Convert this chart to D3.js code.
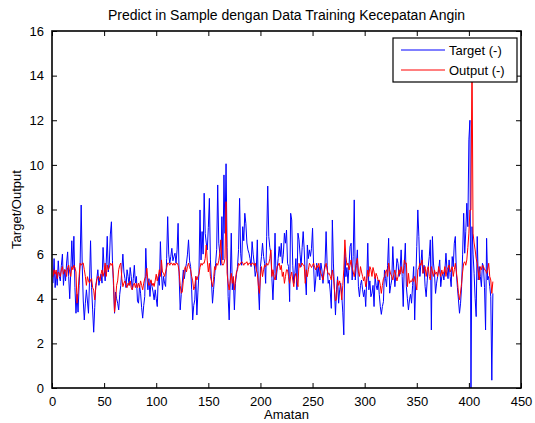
<!DOCTYPE html>
<html>
<head>
<meta charset="utf-8">
<title>Predict in Sample dengan Data Training Kecepatan Angin</title>
<script src="https://d3js.org/d3.v7.min.js"></script>
<style>
	body { margin: 0; background: #fff; }
	text { font-family: "Liberation Sans", Arial, Helvetica, sans-serif; fill: #000; }
</style>
</head>
<body>
<svg id="chart" width="535" height="423"></svg>

<script type="text/javascript">

/** DATA **/
var chartTitle = "Predict in Sample dengan Data Training Kecepatan Angin";
var xLabel = "Amatan";
var yLabel = "Target/Output";
var seriesNames = ["Target (-)", "Output (-)"];
var xTicks = [0, 50, 100, 150, 200, 250, 300, 350, 400, 450];
var yTicks = [0, 2, 4, 6, 8, 10, 12, 14, 16];

// target (blue), one value per amatan, starting at 1
var targetValues = [
	4.7, 5.8, 4.5, 5.2, 4.6, 5.7, 5.0, 4.8, 5.5, 6.0,
	4.6, 5.3, 4.8, 5.6, 6.1, 5.0, 4.0, 5.2, 6.6, 5.4,
	6.8, 4.5, 3.35, 4.2, 3.4, 4.6, 5.6, 8.2, 5.5, 3.9,
	3.05, 3.8, 4.4, 3.9, 3.35, 4.8, 6.6, 4.5, 3.5, 2.5,
	3.6, 4.6, 4.9, 5.3, 4.6, 4.9, 5.1, 4.7, 6.3, 5.4,
	4.8, 5.6, 6.8, 5.2, 5.6, 6.9, 7.45, 5.7, 4.6, 3.35,
	4.3, 4.0, 3.8, 3.5, 4.2, 4.6, 5.3, 6.0, 5.2, 4.9,
	4.5, 5.3, 5.0, 4.6, 5.4, 5.0, 4.4, 4.9, 5.5, 4.7,
	5.0, 3.9, 3.8, 4.6, 4.25, 3.6, 3.13, 3.7, 4.1, 6.26,
	5.0, 4.4, 4.9, 4.1, 4.8, 4.55, 4.3, 3.95, 4.4, 4.0,
	3.65, 5.0, 4.6, 6.56, 5.2, 4.4, 5.0, 4.7, 4.55, 5.8,
	7.68, 6.0, 5.59, 5.9, 6.26, 5.7, 5.89, 6.04, 5.6, 6.19,
	7.38, 5.0, 3.5, 4.2, 4.7, 5.29, 4.9, 5.3, 5.59, 6.0,
	6.64, 5.7, 5.44, 4.4, 3.05, 3.7, 3.95, 5.0, 3.27, 4.3,
	5.15, 7.98, 5.74, 7.01, 6.0, 8.73, 6.93, 6.5, 6.19, 7.2,
	8.5, 5.74, 4.8, 3.8, 4.4, 5.0, 5.59, 6.2, 9.1, 6.49,
	6.04, 5.5, 7.68, 5.74, 9.55, 6.93, 10.05, 6.3, 4.1, 3.05,
	4.8, 6.94, 4.4, 4.9, 3.5, 4.69, 5.1, 5.44, 6.2, 8.5,
	6.04, 5.5, 7.23, 6.6, 7.83, 7.38, 6.5, 6.19, 6.04, 5.8,
	5.44, 6.56, 6.0, 5.59, 5.0, 5.29, 6.64, 4.5, 3.5, 5.44,
	5.9, 6.49, 5.9, 5.59, 4.69, 6.8, 9.05, 6.79, 6.3, 6.04,
	4.9, 3.95, 5.14, 6.94, 4.84, 5.29, 5.8, 6.34, 5.89, 6.49,
	5.59, 6.0, 6.94, 6.49, 7.08, 5.59, 5.44, 3.87, 7.83, 7.53,
	5.5, 4.69, 5.14, 5.8, 4.4, 6.94, 6.64, 6.0, 5.44, 6.3,
	7.01, 6.19, 5.0, 4.17, 6.41, 5.8, 6.19, 5.9, 6.26, 7.16,
	5.5, 4.32, 4.84, 5.59, 5.0, 5.44, 4.84, 5.6, 5.29, 4.69,
	5.2, 5.59, 7.01, 5.5, 4.69, 4.84, 4.3, 3.57, 7.53, 5.6,
	4.4, 3.27, 4.4, 4.99, 3.8, 4.4, 4.69, 4.17, 3.4, 2.38,
	6.19, 4.99, 5.4, 4.69, 5.5, 6.34, 6.49, 4.84, 5.9, 8.43,
	4.84, 5.5, 6.19, 4.54, 4.09, 4.6, 4.84, 4.4, 4.09, 4.4,
	3.65, 4.9, 6.49, 4.4, 4.8, 4.09, 4.25, 4.6, 3.65, 4.99,
	4.6, 4.4, 4.84, 4.2, 3.65, 3.3, 3.65, 3.87, 5.29, 4.9,
	4.54, 5.5, 6.71, 4.25, 4.6, 4.84, 6.34, 5.2, 4.54, 5.14,
	5.8, 5.59, 5.0, 5.29, 6.19, 5.0, 3.65, 5.5, 6.49, 4.54,
	4.0, 3.5, 3.95, 4.2, 3.8, 4.6, 5.44, 3.05, 4.8, 6.34,
	7.98, 6.79, 5.0, 5.6, 6.19, 5.14, 5.5, 4.54, 4.09, 4.8,
	5.44, 5.9, 6.64, 2.6, 6.79, 5.6, 5.14, 4.24, 4.7, 5.0,
	5.3, 5.74, 4.54, 5.0, 5.14, 4.84, 5.3, 6.04, 5.29, 4.9,
	5.74, 5.0, 4.54, 5.89, 5.44, 6.49, 6.79, 5.14, 4.5, 3.95,
	3.35, 3.8, 4.54, 6.0, 7.83, 6.04, 7.0, 8.28, 7.23, 11.12,
	12.0, 0, 7.23, 6.0, 5.14, 4.0, 3.2, 6.79, 4.84, 5.44,
	5.0, 4.54, 5.59, 5.44, 4.5, 2.6, 6.71, 4.84, 5.0, 4.54,
	4.09, 0.35, 4.24
];

// output (red), same amatan
var outputValues = [
	4.99, 5.3, 5.1, 5.29, 4.9, 5.2, 5.14, 5.0, 5.3, 5.44,
	5.1, 5.3, 5.29, 5.0, 5.4, 5.51, 5.2, 5.0, 5.44, 5.3,
	5.5, 5.4, 5.2, 3.8, 4.3, 5.0, 5.59, 5.5, 5.59, 5.6,
	5.3, 5.0, 4.6, 4.99, 4.8, 4.7, 4.84, 4.9, 4.5, 4.39,
	3.95, 4.5, 4.84, 5.0, 4.99, 4.8, 5.1, 5.29, 5.0, 5.2,
	5.6, 5.0, 5.51, 5.3, 5.4, 5.59, 5.5, 5.6, 4.9, 3.4,
	3.9, 4.6, 4.8, 5.3, 5.5, 5.6, 4.9, 4.54, 4.7, 4.8,
	4.6, 4.5, 4.7, 4.6, 4.8, 4.5, 4.4, 4.6, 4.7, 4.5,
	4.69, 4.5, 4.7, 4.5, 4.8, 4.6, 4.4, 4.7, 4.9, 5.0,
	5.37, 4.8, 4.6, 4.7, 4.85, 4.6, 4.7, 4.55, 4.8, 5.1,
	4.8, 5.0, 5.3, 5.0, 5.74, 5.2, 5.15, 5.0, 5.2, 5.4,
	5.6, 5.59, 5.5, 5.6, 5.59, 5.5, 5.6, 5.5, 5.59, 5.6,
	5.5, 5.2, 4.6, 4.25, 4.3, 4.8, 5.3, 5.44, 5.2, 5.44,
	5.6, 5.4, 5.3, 5.0, 4.8, 4.4, 4.54, 5.0, 4.84, 5.0,
	5.1, 5.4, 5.59, 5.5, 5.6, 5.59, 5.8, 6.41, 5.7, 5.2,
	5.59, 5.0, 4.8, 4.54, 4.85, 5.44, 5.3, 5.59, 5.5, 5.7,
	6.04, 6.64, 5.59, 5.5, 5.59, 5.8, 8.35, 5.14, 4.7, 4.39,
	4.8, 5.14, 4.69, 5.0, 4.39, 4.84, 5.2, 5.3, 5.59, 5.5,
	5.6, 5.66, 5.6, 5.5, 5.6, 5.59, 5.66, 5.5, 5.6, 5.59,
	5.5, 5.6, 5.59, 5.5, 5.6, 5.3, 5.14, 4.6, 4.24, 5.0,
	5.44, 4.99, 5.3, 5.5, 5.44, 5.6, 5.5, 5.59, 5.8, 6.19,
	5.0, 5.3, 4.99, 4.84, 5.1, 5.44, 5.5, 5.6, 5.3, 5.5,
	5.0, 5.2, 4.69, 5.0, 5.3, 5.29, 5.0, 4.69, 5.0, 5.2,
	4.84, 4.54, 5.0, 5.14, 4.8, 4.54, 5.59, 5.4, 5.5, 5.6,
	5.5, 5.5, 4.69, 5.3, 4.99, 5.3, 5.59, 5.5, 5.4, 5.5,
	5.6, 5.4, 5.29, 5.5, 5.4, 5.59, 5.3, 5.14, 5.0, 4.84,
	5.2, 5.4, 5.59, 5.3, 5.1, 5.14, 5.0, 4.84, 5.29, 5.0,
	4.4, 3.9, 4.0, 4.84, 4.6, 4.8, 4.5, 3.95, 4.6, 5.3,
	6.64, 5.89, 5.5, 5.6, 5.29, 5.5, 5.74, 5.4, 5.2, 4.99,
	5.3, 5.6, 5.81, 5.2, 5.0, 5.44, 5.2, 5.0, 4.8, 4.99,
	4.54, 4.8, 5.29, 5.0, 5.44, 5.3, 5.0, 5.4, 5.2, 4.9,
	5.14, 5.0, 4.8, 4.84, 4.6, 4.24, 4.6, 4.9, 4.99, 5.2,
	5.3, 5.0, 5.6, 5.3, 5.1, 5.0, 4.84, 5.1, 5.29, 5.0,
	4.8, 5.0, 5.3, 5.1, 5.44, 5.2, 5.14, 5.74, 5.59, 5.6,
	4.54, 5.14, 4.69, 4.8, 4.77, 4.9, 4.77, 5.0, 4.7, 4.39,
	5.29, 5.4, 5.59, 5.5, 5.74, 5.14, 5.3, 5.44, 5.0, 5.3,
	5.44, 5.0, 4.84, 5.44, 5.2, 5.0, 5.29, 5.1, 5.2, 5.0,
	5.44, 5.2, 5.0, 5.29, 5.1, 5.2, 5.44, 5.0, 5.29, 5.4,
	5.51, 5.2, 5.3, 5.44, 5.0, 5.3, 5.59, 5.2, 4.8, 4.24,
	3.95, 4.3, 4.69, 5.2, 5.59, 5.66, 5.5, 5.74, 6.3, 6.94,
	7.98, 7.98, 15.0, 6.94, 6.5, 6.19, 5.8, 5.59, 5.2, 4.84,
	5.44, 5.3, 5.5, 5.44, 5.3, 5.29, 5.14, 5.3, 5.59, 5.0,
	4.84, 4.24, 4.77
];

var seriesColors = ["#0000ff", "#ff0000"];

/** LAYOUT **/
var width = 535, height = 423;
var margin = {top: 31, right: 14, bottom: 35, left: 52};
var plotW = width - margin.left - margin.right;
var plotH = height - margin.top - margin.bottom;

var svg = d3.select("#chart");
svg.append("rect").attr("width", width).attr("height", height).attr("fill", "#fff");

var x = d3.scaleLinear().domain([0, 450]).range([0, plotW]);
var y = d3.scaleLinear().domain([0, 16]).range([plotH, 0]);

var g = svg.append("g").attr("transform", "translate(" + margin.left + "," + margin.top + ")");

svg.append("defs").append("clipPath").attr("id", "plotClip")
	.append("rect").attr("width", plotW).attr("height", plotH);

// lines, target first so output sits on top
var line = d3.line()
	.x(function(d) { return x(d.x); })
	.y(function(d) { return y(d.v); });

[targetValues, outputValues].forEach(function(vals, k) {
	var pts = vals.map(function(v, i) { return {x: i + 1, v: v}; });
	g.append("path")
		.datum(pts)
		.attr("clip-path", "url(#plotClip)")
		.attr("fill", "none")
		.attr("stroke", seriesColors[k])
		.attr("stroke-width", 1)
		.attr("stroke-linejoin", "round")
		.attr("d", line);
});

// axes: ticks pointing inward on all four sides (matlab box)
var tickLen = 5;
g.append("g").attr("transform", "translate(0," + plotH + ")")
	.call(d3.axisBottom(x).tickValues(xTicks).tickSize(-tickLen).tickPadding(9));
g.append("g")
	.call(d3.axisTop(x).tickValues(xTicks).tickSize(-tickLen).tickFormat(""));
g.append("g")
	.call(d3.axisLeft(y).tickValues(yTicks).tickSize(-tickLen).tickPadding(8));
g.append("g").attr("transform", "translate(" + plotW + ",0)")
	.call(d3.axisRight(y).tickValues(yTicks).tickSize(-tickLen).tickFormat(""));

g.selectAll(".domain").remove();
g.selectAll(".tick line").attr("stroke", "#000").attr("stroke-width", 1);
g.selectAll(".tick text")
	.style("font-family", "'Liberation Sans', Arial, sans-serif")
	.style("font-size", "13px")
	.attr("fill", "#000");

g.append("rect")
	.attr("width", plotW).attr("height", plotH)
	.attr("fill", "none").attr("stroke", "#000").attr("stroke-width", 1.6);

// legend
var legX = 393, legY = 38, legW = 124, legH = 44;
var leg = svg.append("g").attr("transform", "translate(" + legX + "," + legY + ")");
leg.append("rect")
	.attr("width", legW).attr("height", legH)
	.attr("fill", "#fff").attr("stroke", "#000").attr("stroke-width", 1.2);
seriesNames.forEach(function(name, k) {
	var ly = 12 + k * 20;
	leg.append("line")
		.attr("x1", 8).attr("x2", 52).attr("y1", ly).attr("y2", ly)
		.attr("stroke", seriesColors[k]).attr("stroke-width", 1);
	leg.append("text")
		.attr("x", 56).attr("y", ly + 5)
		.style("font-size", "13px")
		.text(name);
});

// titles
svg.append("text")
	.attr("x", margin.left + plotW / 2).attr("y", 20)
	.attr("text-anchor", "middle")
	.style("font-size", "14px")
	.text(chartTitle);
svg.append("text")
	.attr("x", margin.left + plotW / 2).attr("y", 419)
	.attr("text-anchor", "middle")
	.style("font-size", "13px")
	.text(xLabel);
svg.append("text")
	.attr("transform", "translate(21," + (margin.top + plotH / 2) + ") rotate(-90)")
	.attr("text-anchor", "middle")
	.style("font-size", "13px")
	.text(yLabel);

</script>
</body>
</html>
